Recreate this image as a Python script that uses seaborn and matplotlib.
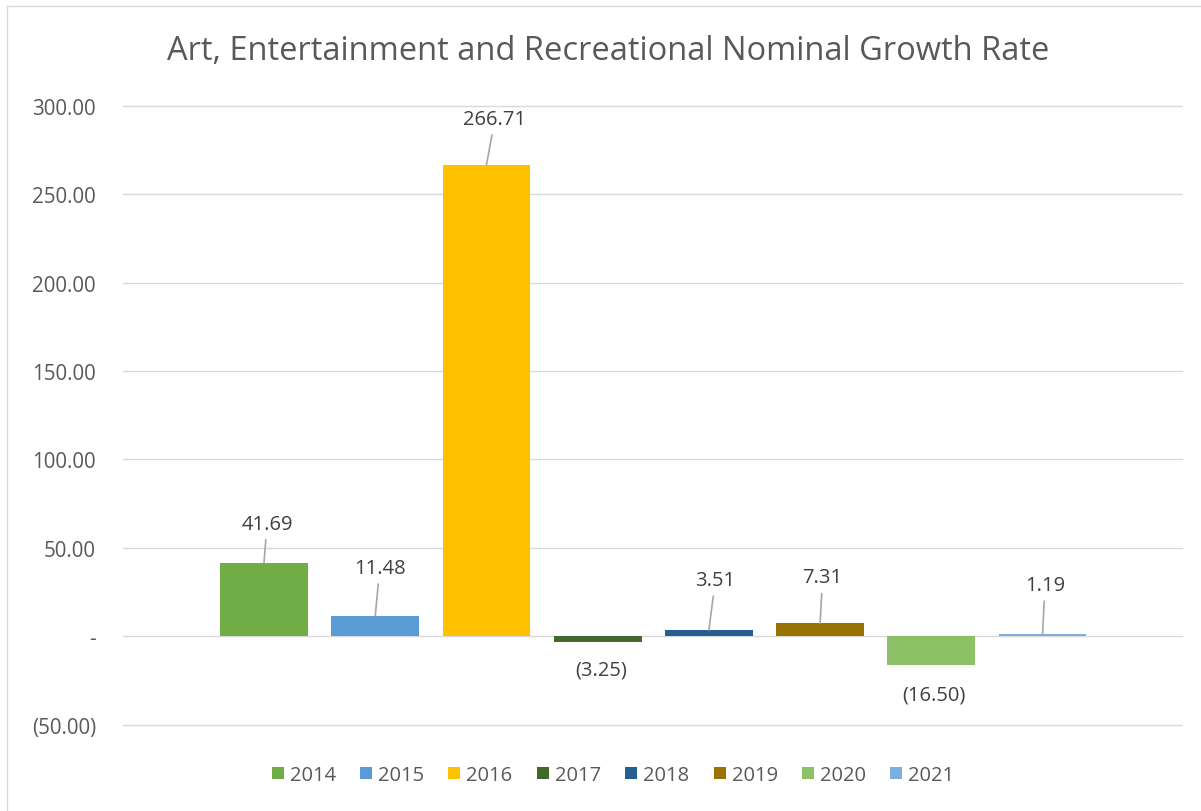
import matplotlib
matplotlib.use("Agg")
import matplotlib.pyplot as plt
from matplotlib.lines import Line2D
from matplotlib.patches import Rectangle
from matplotlib.ticker import FuncFormatter
import pandas as pd
import seaborn as sns

# Data
years = ["2014", "2015", "2016", "2017", "2018", "2019", "2020", "2021"]
growth = [41.69, 11.48, 266.71, -3.25, 3.51, 7.31, -16.50, 1.19]
colors = ["#70AD47", "#5B9BD5", "#FFC000", "#43682B",
          "#255E91", "#997300", "#8CC168", "#7CAFDD"]
y_ticks = [-50, 0, 50, 100, 150, 200, 250, 300]
title = "Art, Entertainment and Recreational Nominal Growth Rate"

# Data-label placement (pixels) relative to each bar's end: (dx, dy)
label_offsets = [(3, 39), (4.5, 48), (8.5, 46), (3.5, -28),
                 (6.5, 50), (2.5, 46), (2.7, -29), (2.5, 49)]

W, H, DPI = 1201, 812, 100
PX = 72 / DPI  # points per pixel

sns.set_theme(style="white")
plt.rcParams["font.family"] = ["Open Sans", "DejaVu Sans"]

TEXT = "#595959"
LABEL = "#404040"
GRID = "#D9D9D9"
FS = 14.5

fig = plt.figure(figsize=(W / DPI, H / DPI), dpi=DPI)
fig.patch.set_facecolor("white")

left, right, top, bottom = 123, 1182, 107, 725.6
ax = fig.add_axes([left / W, 1 - bottom / H, (right - left) / W, (bottom - top) / H])

df = pd.DataFrame({"year": years, "growth": growth})
sns.barplot(data=df, x="year", y="growth", hue="year", palette=colors,
            saturation=1, width=0.79, errorbar=None, legend=False, ax=ax,
            linewidth=0)

ax.set_xlim(-1.268, 8.254)
ax.set_ylim(-50, 300)
ax.set_yticks(y_ticks)


def accounting(v, _pos=None):
    if abs(v) < 1e-9:
        return "-"
    if v < 0:
        return f"({abs(v):,.2f})"
    return f"{v:,.2f}"


ax.yaxis.set_major_formatter(FuncFormatter(accounting))
ax.tick_params(axis="y", length=0, pad=27 * PX, labelsize=14.8, labelcolor=TEXT)
ax.set_xticks([])
ax.set_xlabel("")
ax.set_ylabel("")
ax.yaxis.grid(True, color=GRID, lw=1.0)
for gl in ax.get_ygridlines():
    gl.set_clip_on(False)
ax.set_axisbelow(True)
for s in ax.spines.values():
    s.set_visible(False)

# Data labels with leader lines for positive bars
for i, (v, (dx, dy)) in enumerate(zip(growth, label_offsets)):
    arrow = None
    if v > 0:
        arrow = dict(arrowstyle="-", color="#A6A6A6", lw=1.2, shrinkA=2, shrinkB=0)
    ax.annotate(accounting(v), xy=(i, v), xytext=(dx * PX, dy * PX),
                textcoords="offset points", ha="center", va="center",
                fontsize=FS, color=LABEL, arrowprops=arrow)

# Title
fig.text(608 / W, 1 - 52 / H, title, ha="center", va="center",
         fontsize=23.5, color=TEXT)

# Legend
handles = [Line2D([], [], marker="s", ls="", markersize=8.6,
                  markerfacecolor=c, markeredgewidth=0) for c in colors]
fig.legend(handles, years, loc="center", bbox_to_anchor=(613 / W, 1 - 776 / H),
           ncol=8, frameon=False, fontsize=FS, handlelength=0.6,
           handletextpad=0.3, columnspacing=1.2, labelcolor=TEXT, borderpad=0)

# Chart-area border
fig.add_artist(Rectangle((7 / W, -0.1), 1.2, 1 - 7 / H + 0.1,
                         transform=fig.transFigure, fill=False,
                         edgecolor=GRID, lw=1.0))

fig.savefig("out.png", dpi=DPI)
